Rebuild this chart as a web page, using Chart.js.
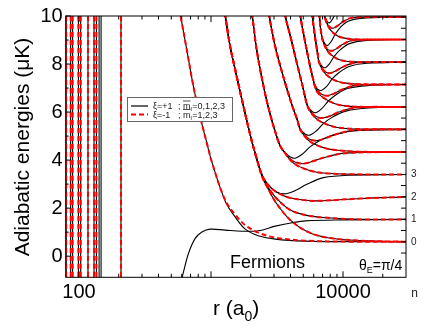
<!DOCTYPE html>
<html>
<head>
<meta charset="utf-8">
<script src="https://cdn.jsdelivr.net/npm/chart.js@4.4.1/dist/chart.umd.min.js"></script>
<style>
  html, body { margin: 0; padding: 0; background: #fff; }
  #wrap { width: 423px; height: 327px; }
</style>
</head>
<body>
<div id="wrap"><canvas id="energyChart" width="423" height="327"></canvas></div>
<script>
// axis ranges and ticks
const rMin = 79.3, rMax = 30000;
const eMin = -0.88, eMax = 10;
const xLabelTicks = [100, 10000];
const xMajorTicks = [100, 1000, 10000];
const xMinorTicks = [200, 300, 400, 500, 600, 700, 800, 900, 2000, 3000, 4000, 5000, 6000, 7000, 8000, 9000, 20000];
const yTicks = [0, 2, 4, 6, 8, 10];
const yMinorTicks = [1, 3, 5, 7, 9];
// asymptotic levels n (right axis)
const levels = [0.6, 1.53, 2.47, 3.40, 4.34, 5.28, 6.21, 7.15, 8.08, 9.02, 9.96];
const levelLabels = ['0', '1', '2', '3'];
const levelMidTicks = [0.13, 1.07, 2.0, 2.94, 3.87, 4.81, 5.75, 6.68, 7.62, 8.55, 9.49];

// short-range walls (r in a0), black + red, and black only
const leftWallsBoth = [80, 86.5, 89.5, 99, 103, 117, 130, 135.5, 208];
const leftWallsBlack = [142, 147];

// [r, E] points
const curveARed = [[575, 10.3], [656, 8.58], [737, 7.05], [828, 5.80], [931, 4.70], [1021, 3.875], [1282, 2.33], [1581, 1.625], [1817, 1.29], [2280, 0.98], [3069, 0.77], [5185, 0.646], [11385, 0.604], [30000, 0.6]];
const curveABlack = [[575, 10.3], [656, 8.58], [737, 7.05], [828, 5.80], [931, 4.70], [1021, 3.875], [1282, 2.29], [1527, 1.625], [1817, 1.125], [2280, 0.854], [3069, 0.708], [5185, 0.625], [11385, 0.604], [30000, 0.6]];
const curveB = [[584, -1.21], [605, -0.875], [675, 0.11], [759, 0.74], [853, 1.01], [986, 1.125], [1282, 1.083], [1716, 1.04], [2292, 1.06], [3069, 1.25], [4108, 1.39], [5185, 1.47], [9559, 1.51], [30000, 1.53]];

const wall1 = [[1238, 10.46], [1282, 10.0], [1399, 8.71], [1527, 7.75], [1725, 6.46], [1983, 5.04], [2201, 4.125]];
const w1a0 = [[2445, 3.29], [2716, 2.79], [3123, 2.21], [3989, 1.5], [5369, 1.02], [7615, 0.77], [13559, 0.646], [30000, 0.6]];
const w1a = [[2466, 3.27], [2763, 2.79], [3234, 2.33], [3989, 1.92], [5185, 1.71], [7102, 1.61], [13559, 1.53], [30000, 1.53]];
const w1b = [[2488, 3.27], [2862, 2.83], [3468, 2.54], [4204, 2.40], [5658, 2.31], [7102, 2.31], [13559, 2.40], [30000, 2.47]];
const w1c = [[2488, 3.29], [2763, 2.92], [3178, 2.65], [3719, 2.60], [4430, 2.75], [5276, 2.98], [7102, 3.27], [11385, 3.375], [30000, 3.40]];

const wall2 = [[1983, 10.46], [2054, 10.0], [2201, 8.71], [2445, 7.33], [2715, 6.21], [3069, 5.17], [3349, 4.58]];
const w2a = [[3592, 4.33], [3989, 4.0], [4508, 3.77], [5658, 3.56], [7101, 3.46], [11385, 3.41], [30000, 3.40]];
const w2b = [[3622, 4.31], [4059, 4.0], [4430, 3.90], [5007, 3.85], [5963, 3.96], [7101, 4.10], [10432, 4.29], [30000, 4.34]];
const w2c = [[3622, 4.33], [3989, 4.125], [4353, 4.08], [4920, 4.25], [5658, 4.56], [6739, 4.83], [8759, 5.08], [13559, 5.23], [30000, 5.28]];

const wall3 = [[2715, 10.46], [2763, 10.0], [3069, 8.71], [3592, 7.33], [4131, 6.25], [4508, 5.67]];
const w3a = [[4718, 5.29], [5185, 4.96], [5788, 4.73], [7101, 4.52], [8713, 4.42], [13324, 4.35], [30000, 4.34]];
const w3b = [[4751, 5.27], [5268, 4.96], [5698, 4.85], [6360, 4.81], [7445, 4.92], [8713, 5.06], [12311, 5.25], [30000, 5.28]];
const w3c = [[4751, 5.29], [5185, 5.08], [5608, 5.04], [6262, 5.21], [7101, 5.52], [8312, 5.79], [10524, 6.04], [15593, 6.17], [30000, 6.21]];

const wall4 = [[3592, 10.46], [3655, 10.0], [4059, 9.0], [4508, 7.96], [4920, 7.125], [5185, 6.58]];
const w4a = [[5387, 6.23], [5859, 5.90], [6462, 5.67], [7750, 5.46], [9295, 5.35], [13559, 5.29], [30000, 5.28]];
const w4b = [[5427, 6.21], [5941, 5.90], [6373, 5.79], [7029, 5.75], [8082, 5.85], [9295, 6.0], [12639, 6.19], [30000, 6.21]];
const w4c = [[5427, 6.23], [5859, 6.02], [6284, 5.98], [6928, 6.15], [7750, 6.46], [8913, 6.73], [10804, 6.98], [15324, 7.10], [30000, 7.15]];

const wall5 = [[4669, 10.46], [4751, 10.0], [5095, 9.08], [5463, 8.25], [5758, 7.67], [5963, 7.33]];
const w5a = [[6047, 7.16], [6395, 6.825], [7089, 6.60], [8312, 6.39], [9744, 6.28], [13559, 6.22], [30000, 6.21]];
const w5b = [[6089, 7.14], [6588, 6.825], [7002, 6.72], [7628, 6.68], [8622, 6.78], [9744, 6.93], [12750, 7.12], [30000, 7.15]];
const w5c = [[6089, 7.16], [6395, 6.95], [6918, 6.91], [7536, 7.075], [8312, 7.39], [9394, 7.66], [11285, 7.91], [15316, 8.03], [30000, 8.08]];

const wall6 = [[5758, 10.46], [5858, 10.0], [6068, 9.33], [6284, 8.75], [6450, 8.375]];
const w6a = [[6554, 8.10], [6979, 7.77], [7508, 7.54], [8607, 7.33], [9864, 7.225], [13093, 7.16], [30000, 7.15]];
const w6b = [[6588, 8.08], [7052, 7.77], [7431, 7.66], [7998, 7.62], [8882, 7.725], [9864, 7.87], [12420, 8.06], [30000, 8.08]];
const w6c = [[6588, 8.10], [6979, 7.89], [7354, 7.85], [7914, 8.02], [8607, 8.33], [9559, 8.60], [11188, 8.85], [14534, 8.975], [30000, 9.02]];

const wall7 = [[6395, 10.46], [6622, 10.0], [6739, 9.54], [6858, 9.25]];
const w7a = [[6979, 9.03], [7354, 8.70], [7815, 8.47], [8759, 8.26], [9813, 8.15], [12420, 8.09], [30000, 8.08]];
const w7b = [[7009, 9.01], [7419, 8.70], [7750, 8.59], [8240, 8.55], [8992, 8.65], [9813, 8.80], [11893, 8.99], [30000, 9.02]];
const w7c = [[7009, 9.03], [7354, 8.82], [7682, 8.78], [8167, 8.95], [8759, 9.26], [9559, 9.53], [10897, 9.78], [13559, 9.90], [30000, 9.96]];

const wall8 = [[6979, 10.58], [7101, 10.25]];
const w8a = [[7264, 9.97], [7616, 9.64], [8047, 9.41], [8913, 9.2], [9876, 9.10], [12209, 9.03], [30000, 9.02]];
const w8b = [[7289, 9.95], [7675, 9.64], [7984, 9.53], [8435, 9.49], [9125, 9.60], [9876, 9.74], [11738, 9.93], [30000, 9.96]];
const w8c = [[7289, 9.97], [7616, 9.76], [7921, 9.72], [8369, 9.89], [8913, 10.2], [9643, 10.47]];

// wall, branches drawn in both colours, branch drawn in black only
const fans = [
    [wall1, [w1a0, w1a, w1b], w1c],
    [wall2, [w2a, w2b], w2c],
    [wall3, [w3a, w3b], w3c],
    [wall4, [w4a, w4b], w4c],
    [wall5, [w5a, w5b], w5c],
    [wall6, [w6a, w6b], w6c],
    [wall7, [w7a, w7b], w7c],
    [wall8, [w8a, w8b], w8c]
];

const FONT = '"Liberation Sans", Arial, Helvetica, sans-serif';

document.addEventListener('DOMContentLoaded', () => {
    const datasets = [];
    const toXY = pts => pts.map(p => ({ x: p[0], y: p[1] }));
    const common = { showLine: true, pointRadius: 0, fill: false, tension: 0.35, clip: 0 };

    function addBlack(pts) {
        datasets.push({ ...common, data: toXY(pts), borderColor: '#000000', borderWidth: 1.1, order: 2 });
    }
    function addRed(pts) {
        datasets.push({ ...common, data: toXY(pts), borderColor: '#ff0000', borderWidth: 2, borderDash: [5, 3], order: 1 });
    }

    leftWallsBoth.forEach(r => {
        addBlack([[r, -1.2], [r, 10.6]]);
        addRed([[r, -1.2], [r, 10.6]]);
    });
    leftWallsBlack.forEach(r => addBlack([[r, -1.2], [r, 10.6]]));

    addBlack(curveABlack);
    addRed(curveARed);
    addBlack(curveB);

    fans.forEach(([wall, both, blackOnly]) => {
        both.forEach(branch => {
            addBlack(wall.concat(branch));
            addRed(wall.concat(branch));
        });
        addBlack(wall.concat(blackOnly));
    });

    // inner tick marks, frame, legend box
    const frame = {
        id: 'frame',
        afterDatasetsDraw(chart) {
            const { ctx, chartArea: a, scales } = chart;
            const x = scales.x, y = scales.y;
            ctx.save();
            ctx.strokeStyle = '#000';
            ctx.lineWidth = 1;
            const seg = (x1, y1, x2, y2) => {
                ctx.beginPath();
                ctx.moveTo(x1, y1);
                ctx.lineTo(x2, y2);
                ctx.stroke();
            };
            xMajorTicks.forEach(v => {
                const p = x.getPixelForValue(v);
                seg(p, a.bottom, p, a.bottom - 6);
                seg(p, a.top, p, a.top + 6);
            });
            xMinorTicks.forEach(v => {
                const p = x.getPixelForValue(v);
                seg(p, a.bottom, p, a.bottom - 3.5);
                seg(p, a.top, p, a.top + 3.5);
            });
            yTicks.forEach(v => {
                const p = y.getPixelForValue(v);
                seg(a.left, p, a.left + 5, p);
            });
            yMinorTicks.forEach(v => {
                const p = y.getPixelForValue(v);
                seg(a.left, p, a.left + 3, p);
            });
            levels.concat(levelMidTicks).forEach(v => {
                const p = y.getPixelForValue(v);
                if (p > a.top && p < a.bottom) seg(a.right, p, a.right - 5, p);
            });
            ctx.strokeRect(a.left, a.top, a.right - a.left, a.bottom - a.top);

            // legend
            ctx.fillStyle = '#fff';
            ctx.fillRect(127, 97, 106, 25);
            ctx.strokeStyle = '#666';
            ctx.strokeRect(127.5, 97.5, 105, 24);
            ctx.strokeStyle = '#000';
            ctx.lineWidth = 1.2;
            seg(131, 106, 148, 106);
            ctx.strokeStyle = '#ff0000';
            ctx.lineWidth = 2;
            ctx.setLineDash([5, 3]);
            seg(131, 114.5, 148, 114.5);
            ctx.setLineDash([]);
            legendText(ctx, 153, 109, '\u03be=+1', '=0,1,2,3');
            legendText(ctx, 153, 117.5, '\u03be=-1', '=1,2,3');
            ctx.restore();
        },
        afterDraw(chart) {
            const { ctx } = chart;
            ctx.save();
            ctx.fillStyle = '#000';
            ctx.textBaseline = 'alphabetic';

            // y title
            ctx.save();
            ctx.translate(29, 147);
            ctx.rotate(-Math.PI / 2);
            ctx.font = '21px ' + FONT;
            ctx.textAlign = 'center';
            ctx.fillText('Adiabatic energies (\u03bcK)', 0, 0);
            ctx.restore();

            // x title r (a0)
            ctx.textAlign = 'left';
            ctx.font = '21px ' + FONT;
            let px = 213;
            ctx.fillText('r (a', px, 315);
            px += ctx.measureText('r (a').width;
            ctx.font = '14px ' + FONT;
            ctx.fillText('0', px, 321);
            px += ctx.measureText('0').width;
            ctx.font = '21px ' + FONT;
            ctx.fillText(')', px, 315);

            // Fermions
            ctx.font = '18px ' + FONT;
            ctx.fillText('Fermions', 230, 268);

            // theta_E = pi/4
            px = 359;
            ctx.font = '14px ' + FONT;
            ctx.fillText('\u03b8', px, 270);
            px += ctx.measureText('\u03b8').width;
            ctx.font = '9px ' + FONT;
            ctx.fillText('E', px, 273);
            px += ctx.measureText('E').width;
            ctx.font = '14px ' + FONT;
            ctx.fillText('=\u03c0/4', px, 270);

            // n (right axis)
            ctx.font = '12px ' + FONT;
            ctx.fillStyle = '#222';
            ctx.textAlign = 'center';
            ctx.fillText('n', 414.5, 297);
            ctx.restore();
        }
    };

    function legendText(ctx, x, y, xi, vals) {
        ctx.fillStyle = '#222';
        ctx.textAlign = 'left';
        ctx.textBaseline = 'alphabetic';
        ctx.font = '9px ' + FONT;
        ctx.fillText(xi, x, y);
        let px = x + 25;
        ctx.fillText(';', px, y);
        px += ctx.measureText('; ').width;
        ctx.fillText('m', px, y);
        const mw = ctx.measureText('m').width;
        ctx.strokeStyle = '#222';
        ctx.lineWidth = 0.8;
        ctx.beginPath();
        ctx.moveTo(px, y - 8);
        ctx.lineTo(px + mw, y - 8);
        ctx.stroke();
        px += mw;
        ctx.font = '6px ' + FONT;
        ctx.fillText('l', px, y + 2);
        px += ctx.measureText('l').width + 0.5;
        ctx.font = '9px ' + FONT;
        ctx.fillText(vals, px, y);
    }

    new Chart(document.getElementById('energyChart'), {
        type: 'scatter',
        data: { datasets: datasets },
        options: {
            responsive: false,
            animation: false,
            devicePixelRatio: 1,
            layout: { padding: { top: 16, left: 0, right: 0, bottom: 0 } },
            plugins: {
                legend: { display: false },
                tooltip: { enabled: false }
            },
            scales: {
                x: {
                    type: 'logarithmic',
                    min: rMin,
                    max: rMax,
                    grid: { display: false, drawTicks: false },
                    border: { display: false },
                    afterBuildTicks: s => { s.ticks = xLabelTicks.map(v => ({ value: v })); },
                    afterFit: s => { s.height = 49.7; },
                    ticks: {
                        autoSkip: false,
                        maxRotation: 0,
                        padding: 3,
                        color: '#000',
                        font: { family: FONT, size: 20 },
                        callback: v => String(v)
                    }
                },
                y: {
                    type: 'linear',
                    position: 'left',
                    min: eMin,
                    max: eMax,
                    grid: { display: false, drawTicks: false },
                    border: { display: false },
                    afterBuildTicks: s => { s.ticks = yTicks.map(v => ({ value: v })); },
                    afterFit: s => { s.width = 65.7; },
                    ticks: {
                        padding: 3,
                        color: '#000',
                        font: { family: FONT, size: 20 }
                    }
                },
                y2: {
                    type: 'linear',
                    position: 'right',
                    min: eMin,
                    max: eMax,
                    grid: { display: false, drawTicks: false },
                    border: { display: false },
                    afterBuildTicks: s => { s.ticks = levels.slice(0, levelLabels.length).map(v => ({ value: v })); },
                    afterFit: s => { s.width = 17; },
                    ticks: {
                        padding: 5,
                        color: '#222',
                        font: { family: FONT, size: 10 },
                        callback: (v, i) => levelLabels[i]
                    }
                }
            }
        },
        plugins: [frame]
    });
});
</script>
</body>
</html>
